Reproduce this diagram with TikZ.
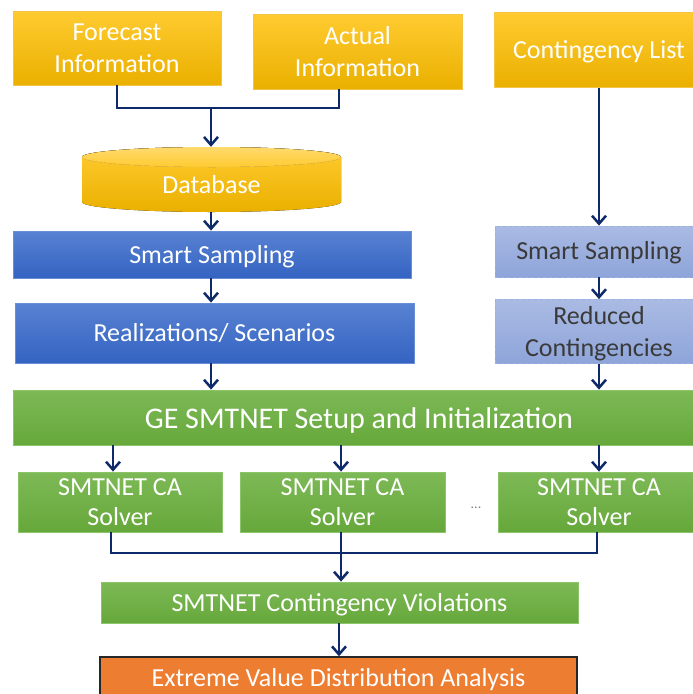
\documentclass[tikz,border=0pt]{standalone}
\usepackage{fontspec}
\setmainfont{Carlito}
\usetikzlibrary{arrows.meta,calc}
\definecolor{navy}{HTML}{0E2A6B}
\definecolor{ytop}{HTML}{FFCB30}
\definecolor{ybot}{HTML}{EAB000}
\definecolor{yedge}{HTML}{F4C444}
\definecolor{btop}{HTML}{5882D2}
\definecolor{bbot}{HTML}{3463C2}
\definecolor{bedge}{HTML}{6A8ED6}
\definecolor{ltop}{HTML}{AABAE3}
\definecolor{lbot}{HTML}{8EA5DA}
\definecolor{ledge}{HTML}{9DB1E0}
\definecolor{gtop}{HTML}{7DB956}
\definecolor{gbot}{HTML}{66A83B}
\definecolor{gedge}{HTML}{8CC46A}
\definecolor{orng}{HTML}{ED7D31}
\definecolor{dtext}{HTML}{3A3A3A}
\newcommand\lowr[2]{\raisebox{-#1}[\height][\depth]{#2}}
\newcommand\twol[2]{\begin{tabular}{@{}c@{}}#1\\#2\end{tabular}}
\tikzset{
  basebox/.style={rectangle, inner sep=0pt, align=center, text=white,
    font=\fontsize{26}{32}\selectfont},
  ybox/.style={basebox, top color=ytop, bottom color=ybot, draw=yedge, line width=0.8pt},
  bbox/.style={basebox, top color=btop, bottom color=bbot, draw=bedge, line width=0.8pt},
  lbox/.style={basebox, top color=ltop, bottom color=lbot, draw=ledge, dashed, line width=0.8pt, text=dtext},
  gbox/.style={basebox, top color=gtop, bottom color=gbot, draw=gedge, line width=0.8pt},
  obox/.style={basebox, fill=orng, draw=black!85, line width=1.5pt},
  arr/.style={draw=navy, line width=2.5pt, -{Straight Barb[length=8pt,width=14pt]}},
  ln/.style={draw=navy, line width=2.5pt}
}
\begin{document}
\begin{tikzpicture}[x=1pt,y=-1pt]
\fill[white] (0,0) rectangle (693,694);
\useasboundingbox (0,0) rectangle (693,694);

% top row
\node[ybox, minimum width=208, minimum height=74] (fc) at (117,48) {Forecast\\Information};
\node[ybox, minimum width=209, minimum height=75] (ac) at (357.5,51.5) {Actual\\Information};
\node[ybox, minimum width=210, minimum height=75] (cl) at (599,50) {\lowr{2pt}{Contingency List}};

% database cylinder
\fill[top color=ytop, bottom color=ybot] (82,157) -- (82,202)
  arc[start angle=180, end angle=0, x radius=129.5, y radius=10] -- (341,157)
  arc[start angle=0, end angle=-180, x radius=129.5, y radius=10] -- cycle;
\fill[top color=ytop!70!white, bottom color=ytop] (211.5,157) ellipse[x radius=129.5, y radius=10];
\draw[yedge, line width=0.6pt] (82,157) arc[start angle=180, end angle=0, x radius=129.5, y radius=10];
\node[rectangle, inner sep=0pt, minimum width=259, minimum height=65, text=white,
  font=\fontsize{26}{31}\selectfont] (db) at (211.5,179.5) {\lowr{5.5pt}{Database}};

% left column
\node[bbox, minimum width=398, minimum height=47] (ss1) at (212,254.5) {\lowr{2pt}{Smart Sampling}};
\node[bbox, minimum width=399, minimum height=60] (rs) at (214.5,333) {Realizations/ Scenarios};

% right column
\node[lbox, minimum width=208, minimum height=51] (ss2) at (599,251.5) {\lowr{1pt}{Smart Sampling}};
\node[lbox, minimum width=208, minimum height=61] (rc) at (599,331.5) {\lowr{3pt}{\twol{Reduced}{Contingencies}}};

% setup bar
\node[gbox, minimum width=692, minimum height=55, font=\fontsize{30}{34}\selectfont] (ge) at (359,417.5) {\lowr{3pt}{GE SMTNET Setup and Initialization}};

% solvers
\node[gbox, minimum width=204, minimum height=60, font=\fontsize{26}{30}\selectfont] (s1) at (120,502) {\lowr{2pt}{\twol{SMTNET CA}{Solver}}};
\node[gbox, minimum width=205, minimum height=60, font=\fontsize{26}{30}\selectfont] (s2) at (342.5,502) {\lowr{2pt}{\twol{SMTNET CA}{Solver}}};
\node[gbox, minimum width=202, minimum height=60, font=\fontsize{26}{30}\selectfont] (s3) at (599,502) {\lowr{2pt}{\twol{SMTNET CA}{Solver}}};
\node[text=gray, inner sep=0pt, font=\fontsize{14}{14}\selectfont] (dots) at (476,508) {...};

% bottom
\node[gbox, minimum width=477, minimum height=41] (cv) at (339.5,602.5) {\lowr{2pt}{SMTNET Contingency Violations}};
\node[obox, minimum width=477, minimum height=43] (ev) at (338.5,678.5) {\lowr{1.5pt}{Extreme Value Distribution Analysis}};

% coordinates for connector bends
\coordinate (xf) at (117,0);
\coordinate (xa) at (339,0);
\coordinate (j1) at (211,108);
\coordinate (xl) at (211,0);
\coordinate (xr) at (599,0);
\coordinate (x1) at (113,0);
\coordinate (x2) at (341,0);
\coordinate (b1) at (111,0);
\coordinate (b3) at (597,0);
\coordinate (j2) at (341,553);
\coordinate (xm) at (339,0);

% connectors top
\draw[ln] (fc.south -| xf) -- (xf |- j1) -- (xa |- j1) -- (ac.south -| xa);
\draw[arr] (j1) -- (db.north -| j1);
\draw[arr] (db.south -| xl) -- (ss1.north -| xl);
\draw[arr] (ss1.south -| xl) -- (rs.north -| xl);
\draw[arr] (rs.south -| xl) -- (ge.north -| xl);
\draw[arr] (cl.south -| xr) -- (ss2.north -| xr);
\draw[arr] (ss2.south -| xr) -- (rc.north -| xr);
\draw[arr] (rc.south -| xr) -- (ge.north -| xr);

% setup to solvers
\draw[arr] (ge.south -| x1) -- (s1.north -| x1);
\draw[arr] (ge.south -| x2) -- (s2.north -| x2);
\draw[arr] (ge.south -| xr) -- (s3.north -| xr);

% solvers to violations
\draw[ln] (s1.south -| b1) -- (b1 |- j2) -- (b3 |- j2) -- (s3.south -| b3);
\draw[arr] (s2.south -| x2) -- (cv.north -| x2);
\draw[arr] (cv.south -| xm) -- (ev.north -| xm);
\end{tikzpicture}
\end{document}
